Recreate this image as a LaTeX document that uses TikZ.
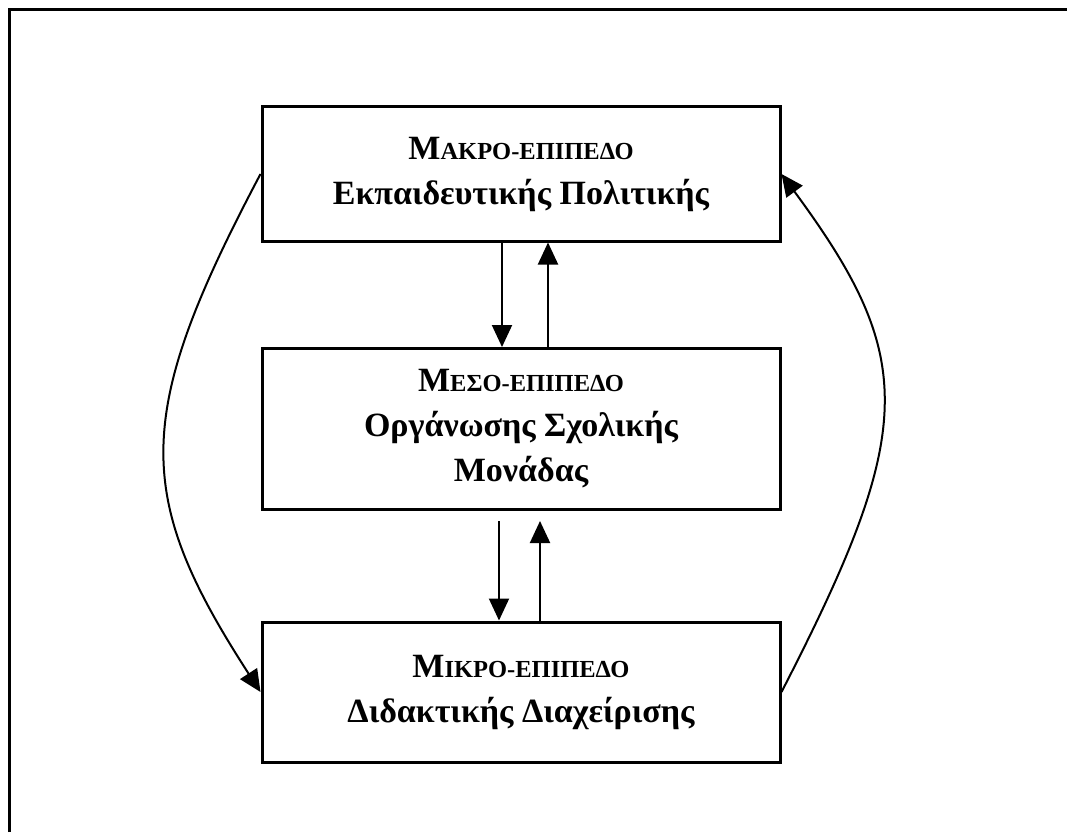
\documentclass[tikz,border=0pt]{standalone}
\usepackage{fontspec}
\setmainfont{Liberation Serif}
\usetikzlibrary{arrows.meta}
\tikzset{
every picture/.style={
line width=2pt
}}
\newcommand{\lowcaps}[1]{{\fontsize{24.5}{45}\selectfont #1}}

\begin{document}
\begin{tikzpicture}[x=1pt, y=-1pt,
level/.style = {rectangle, draw=black, line width=3pt, align=center, minimum width=518pt, font=\bfseries\fontsize{34}{45}\selectfont},
arr/.style = {-{Triangle[length=22pt,width=20pt]}}]
\useasboundingbox (0,0) rectangle (1067,832);

% frame, only top and left edges show
\draw[line width=3.5pt] (9.5,832) -- (9.5,9.5) -- (1067,9.5);

\node[level, minimum height=134pt] (macro) at (521,174) {Μ\lowcaps{ΑΚΡΟ-ΕΠΙΠΕΔΟ}\\Εκπαιδευτικής Πολιτικής};
\node[level, minimum height=161pt] (meso) at (521,429) {Μ\lowcaps{ΕΣΟ-ΕΠΙΠΕΔΟ}\\Οργάνωσης Σχολικής\\Μονάδας};
\node[level, minimum height=140pt] (micro) at (521,692) {Μ\lowcaps{ΙΚΡΟ-ΕΠΙΠΕΔΟ}\\Διδακτικής Διαχείρισης};

\draw[arr] ([xshift=-19pt]macro.south) -- ([xshift=-19pt]meso.north);
\draw[arr] ([xshift=27pt]meso.north) -- ([xshift=27pt]macro.south);
\draw[arr] ([xshift=-22pt,yshift=-10pt]meso.south) -- ([xshift=-22pt]micro.north);
\draw[arr] ([xshift=19pt]micro.north) -- ([xshift=19pt,yshift=-10pt]meso.south);

\draw[arr] (macro.west) .. controls (133,415) and (133,495) .. (micro.west);
\draw[arr] (micro.east) .. controls (917,429) and (917,358) .. (macro.east);
\end{tikzpicture}
\end{document}
